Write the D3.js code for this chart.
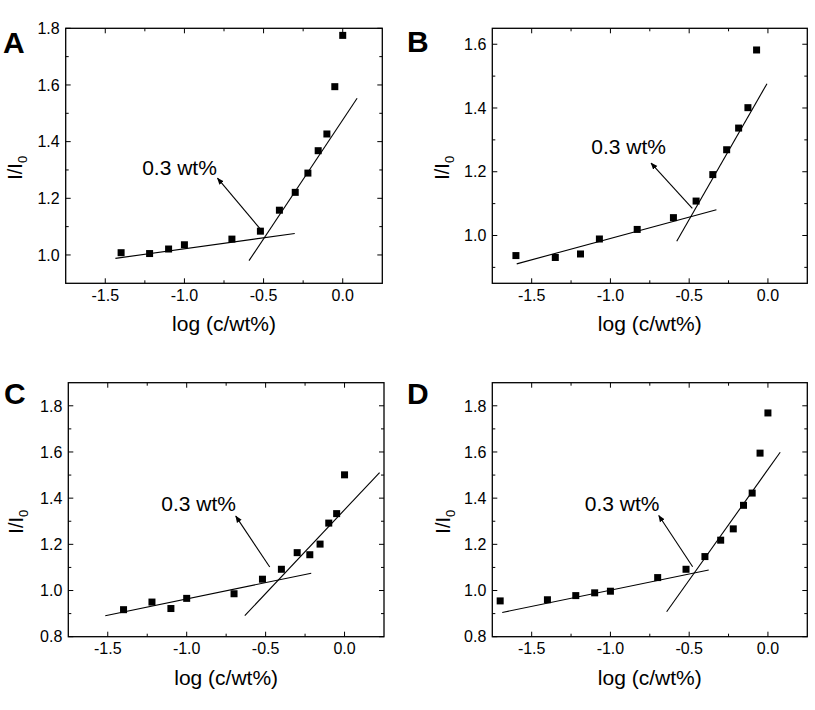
<!DOCTYPE html>
<html><head><meta charset="utf-8">
<script src="https://cdn.jsdelivr.net/npm/d3@7"></script>
<style>
body{margin:0;background:#fff}
svg{display:block}
text{font-family:"Liberation Sans",Arial,Helvetica,sans-serif;fill:#000}
</style>
</head><body>
<svg id="chart" width="815" height="710"></svg>
<script>
// ---------- data ----------
const xDomain = [-1.75, 0.25];
const xMajorTicks = [-1.5, -1.0, -0.5, 0.0];
const xMinorTicks = [-1.25, -0.75, -0.25];
const xAxisTitle = "log (c/wt%)";
const noteText = "0.3 wt%";

// Panel A
const aX = [-1.40, -1.22, -1.10, -1.00, -0.70, -0.52, -0.40, -0.30, -0.22, -0.155, -0.10, -0.05, 0.00];
const aY = [1.008, 1.005, 1.021, 1.036, 1.056, 1.084, 1.158, 1.221, 1.289, 1.368, 1.427, 1.594, 1.775];
const aLowFit = [[-1.436, 0.988], [-0.303, 1.076]];
const aHighFit = [[-0.592, 0.980], [0.091, 1.553]];
const aArrow = [[-0.520, 1.091], [-0.791, 1.271]];
const aNote = [-1.267, 1.282];
const aYDomain = [0.9, 1.8];
const aYMajor = [1.0, 1.2, 1.4, 1.6, 1.8];
const aYMinor = [1.1, 1.3, 1.5, 1.7];

// Panel B
const bX = [-1.60, -1.35, -1.19, -1.07, -0.83, -0.60, -0.456, -0.35, -0.262, -0.186, -0.127, -0.072];
const bY = [0.937, 0.931, 0.942, 0.989, 1.019, 1.056, 1.108, 1.191, 1.269, 1.337, 1.401, 1.582];
const bLowFit = [[-1.595, 0.911], [-0.327, 1.081]];
const bHighFit = [[-0.579, 0.982], [-0.006, 1.476]];
const bArrow = [[-0.480, 1.085], [-0.742, 1.227]];
const bNote = [-1.122, 1.257];
const bYDomain = [0.85, 1.65];
const bYMajor = [1.0, 1.2, 1.4, 1.6];
const bYMinor = [0.9, 1.1, 1.3, 1.5];

// Panel C
const cX = [-1.40, -1.22, -1.10, -1.00, -0.70, -0.52, -0.40, -0.30, -0.22, -0.155, -0.10, -0.05, 0.00];
const cY = [0.917, 0.950, 0.922, 0.966, 0.986, 1.049, 1.092, 1.164, 1.155, 1.201, 1.292, 1.333, 1.501];
const cLowFit = [[-1.516, 0.891], [-0.211, 1.075]];
const cHighFit = [[-0.632, 0.891], [0.222, 1.511]];
const cArrow = [[-0.474, 1.102], [-0.689, 1.322]];
const cNote = [-1.161, 1.343];
const cYDomain = [0.8, 1.9];
const cYMajor = [0.8, 1.0, 1.2, 1.4, 1.6, 1.8];
const cYMinor = [0.9, 1.1, 1.3, 1.5, 1.7];

// Panel D
const dX = [-1.70, -1.40, -1.22, -1.10, -1.00, -0.70, -0.52, -0.40, -0.30, -0.22, -0.155, -0.10, -0.05, 0.00];
const dY = [0.955, 0.960, 0.978, 0.990, 0.997, 1.056, 1.092, 1.147, 1.218, 1.267, 1.369, 1.422, 1.595, 1.769];
const dLowFit = [[-1.687, 0.905], [-0.376, 1.089]];
const dHighFit = [[-0.643, 0.908], [0.078, 1.599]];
const dArrow = [[-0.478, 1.103], [-0.693, 1.325]];
const dNote = [-1.163, 1.343];
const dYDomain = [0.8, 1.9];
const dYMajor = [0.8, 1.0, 1.2, 1.4, 1.6, 1.8];
const dYMinor = [0.9, 1.1, 1.3, 1.5, 1.7];

const panelLetters = ["A", "B", "C", "D"];

// ---------- layout ----------
const layout = [
  {left: 65.7, right: 382.3, top: 28.3, bottom: 283.3, letterX: 3, letterY: 53, yTitleX: 22},
  {left: 492.3, right: 807.3, top: 28.3, bottom: 283.3, letterX: 407, letterY: 52, yTitleX: 449},
  {left: 68.3, right: 384.0, top: 382.7, bottom: 636.7, letterX: 4, letterY: 404, yTitleX: 23},
  {left: 492.3, right: 807.3, top: 382.7, bottom: 636.7, letterX: 407, letterY: 404, yTitleX: 450}
];

const panels = [
  {x: aX, y: aY, low: aLowFit, high: aHighFit, arrow: aArrow, note: aNote, yDomain: aYDomain, yMajor: aYMajor, yMinor: aYMinor},
  {x: bX, y: bY, low: bLowFit, high: bHighFit, arrow: bArrow, note: bNote, yDomain: bYDomain, yMajor: bYMajor, yMinor: bYMinor},
  {x: cX, y: cY, low: cLowFit, high: cHighFit, arrow: cArrow, note: cNote, yDomain: cYDomain, yMajor: cYMajor, yMinor: cYMinor},
  {x: dX, y: dY, low: dLowFit, high: dHighFit, arrow: dArrow, note: dNote, yDomain: dYDomain, yMajor: dYMajor, yMinor: dYMinor}
];

const svg = d3.select("#chart");
const defs = svg.append("defs");
defs.append("marker")
  .attr("id", "arrowhead")
  .attr("viewBox", "0 0 10 10")
  .attr("refX", 9).attr("refY", 5)
  .attr("markerWidth", 7).attr("markerHeight", 7)
  .attr("markerUnits", "userSpaceOnUse")
  .attr("orient", "auto")
  .append("path")
  .attr("d", "M0,1 L10,5 L0,9 Z")
  .attr("fill", "#000");

const fmt = d3.format(".1f");
const MAJ = 5, MIN = 3;

panels.forEach((p, i) => {
  const L = layout[i];
  const x = d3.scaleLinear().domain(xDomain).range([L.left, L.right]);
  const y = d3.scaleLinear().domain(p.yDomain).range([L.bottom, L.top]);
  const g = svg.append("g");

  // ticks (inward on all four sides)
  const tk = g.append("g").attr("stroke", "#000").attr("stroke-width", 1);
  const addX = (vals, len) => vals.forEach(v => {
    tk.append("line").attr("x1", x(v)).attr("x2", x(v)).attr("y1", L.bottom).attr("y2", L.bottom - len);
    tk.append("line").attr("x1", x(v)).attr("x2", x(v)).attr("y1", L.top).attr("y2", L.top + len);
  });
  const addY = (vals, len) => vals.forEach(v => {
    tk.append("line").attr("y1", y(v)).attr("y2", y(v)).attr("x1", L.left).attr("x2", L.left + len);
    tk.append("line").attr("y1", y(v)).attr("y2", y(v)).attr("x1", L.right).attr("x2", L.right - len);
  });
  addX(xMajorTicks, MAJ); addX(xMinorTicks, MIN);
  addY(p.yMajor, MAJ); addY(p.yMinor, MIN);

  // frame
  g.append("rect")
    .attr("x", L.left).attr("y", L.top)
    .attr("width", L.right - L.left).attr("height", L.bottom - L.top)
    .attr("fill", "none").attr("stroke", "#000").attr("stroke-width", 1.3);

  // tick labels
  g.selectAll(".xl").data(xMajorTicks).enter().append("text")
    .attr("x", d => x(d)).attr("y", L.bottom + 17.5)
    .attr("text-anchor", "middle").attr("font-size", 16)
    .text(d => fmt(d).replace("\u2212", "-"));
  g.selectAll(".yl").data(p.yMajor).enter().append("text")
    .attr("x", L.left - 6).attr("y", d => y(d)).attr("dy", "0.36em")
    .attr("text-anchor", "end").attr("font-size", 16)
    .text(d => fmt(d));

  // axis titles
  g.append("text")
    .attr("x", (L.left + L.right) / 2).attr("y", L.bottom + 48)
    .attr("text-anchor", "middle").attr("font-size", 21)
    .text(xAxisTitle);
  const yt = g.append("text")
    .attr("transform", `translate(${L.yTitleX},${(L.top + L.bottom) / 2 + 12}) rotate(-90)`)
    .attr("text-anchor", "middle").attr("font-size", 20);
  yt.append("tspan").text("I/I");
  yt.append("tspan").attr("font-size", 13).attr("dy", 5).text("0");

  // panel letter
  g.append("text")
    .attr("x", L.letterX).attr("y", L.letterY)
    .attr("font-size", 30).attr("font-weight", "bold")
    .text(panelLetters[i]);

  // fit lines
  const line = d3.line().x(d => x(d[0])).y(d => y(d[1]));
  [p.low, p.high].forEach(seg => {
    g.append("path").attr("d", line(seg))
      .attr("fill", "none").attr("stroke", "#000").attr("stroke-width", 1.1);
  });

  // markers
  const s = 7;
  g.selectAll(".pt").data(p.x.map((v, k) => [v, p.y[k]])).enter().append("rect")
    .attr("x", d => x(d[0]) - s / 2).attr("y", d => y(d[1]) - s / 2)
    .attr("width", s).attr("height", s).attr("fill", "#000");

  // arrow and note
  g.append("line")
    .attr("x1", x(p.arrow[0][0])).attr("y1", y(p.arrow[0][1]))
    .attr("x2", x(p.arrow[1][0])).attr("y2", y(p.arrow[1][1]))
    .attr("stroke", "#000").attr("stroke-width", 1.1)
    .attr("marker-end", "url(#arrowhead)");
  g.append("text")
    .attr("x", x(p.note[0])).attr("y", y(p.note[1]))
    .attr("font-size", 21)
    .text(noteText);
});
</script>
</body></html>
